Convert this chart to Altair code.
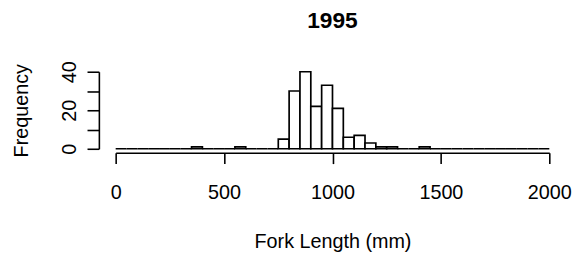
import altair as alt
import pandas as pd

# Histogram of fork length (mm), 1995 — bin edges every 50 mm from 0 to 2000
bin_width = 50
bin_starts = list(range(0, 2000, 50))
counts = [0, 0, 0, 0, 0, 0, 0, 1, 0, 0,
          0, 1, 0, 0, 0, 5, 30, 40, 22, 33,
          21, 6, 7, 3, 1, 1, 0, 0, 1, 0,
          0, 0, 0, 0, 0, 0, 0, 0, 0, 0]
x_ticks = [0, 500, 1000, 1500, 2000]
y_ticks = [0, 10, 20, 30, 40]

df = pd.DataFrame({
    "start": bin_starts,
    "end": [s + bin_width for s in bin_starts],
    "count": counts,
})

FONT = "Liberation Sans"

chart = alt.Chart(df).mark_rect(
    fill="white", stroke="black", strokeWidth=1.7
).encode(
    x=alt.X("start:Q",
            scale=alt.Scale(domain=[0, 2000], nice=False, zero=False),
            axis=alt.Axis(values=x_ticks, format="d", title="Fork Length (mm)", grid=False,
                          offset=4, tickSize=11, tickWidth=1.6, domainWidth=1.6,
                          domainColor="black", tickColor="black",
                          labelFont=FONT, labelFontSize=20, labelColor="black",
                          labelPadding=19, labelBaseline="top", labelFlush=False,
                          labelOverlap=False,
                          titleFont=FONT, titleFontSize=20, titleFontWeight="normal",
                          titleColor="black", titleBaseline="alphabetic",
                          titleY=96)),
    x2="end:Q",
    y=alt.Y("count:Q",
            scale=alt.Scale(domain=[0, 40], nice=False),
            axis=alt.Axis(values=y_ticks, format="d", title="Frequency", grid=False,
                          offset=17, tickSize=12, tickWidth=1.6, domainWidth=1.6,
                          domainColor="black", tickColor="black",
                          labelExpr="datum.value % 20 == 0 ? datum.label : ''",
                          labelAngle=270, labelAlign="center",
                          labelBaseline="alphabetic", labelPadding=12,
                          labelFlush=False, labelOverlap=False,
                          labelFont=FONT, labelFontSize=20, labelColor="black",
                          titleFont=FONT, titleFontSize=20, titleFontWeight="normal",
                          titleColor="black", titleAngle=270,
                          titleBaseline="alphabetic", titleX=-72)),
    y2=alt.value(78),
).properties(
    width=439,
    height=78,
    autosize="none",
    padding={"left": 109, "top": 63, "right": 25, "bottom": 105},
    title=alt.TitleParams("1995", font=FONT, fontSize=23, fontWeight="bold",
                          color="black", anchor="middle", baseline="alphabetic",
                          offset=10),
).configure_view(stroke=None)

chart.save("out.html", embed_options={"renderer": "svg", "actions": False})
